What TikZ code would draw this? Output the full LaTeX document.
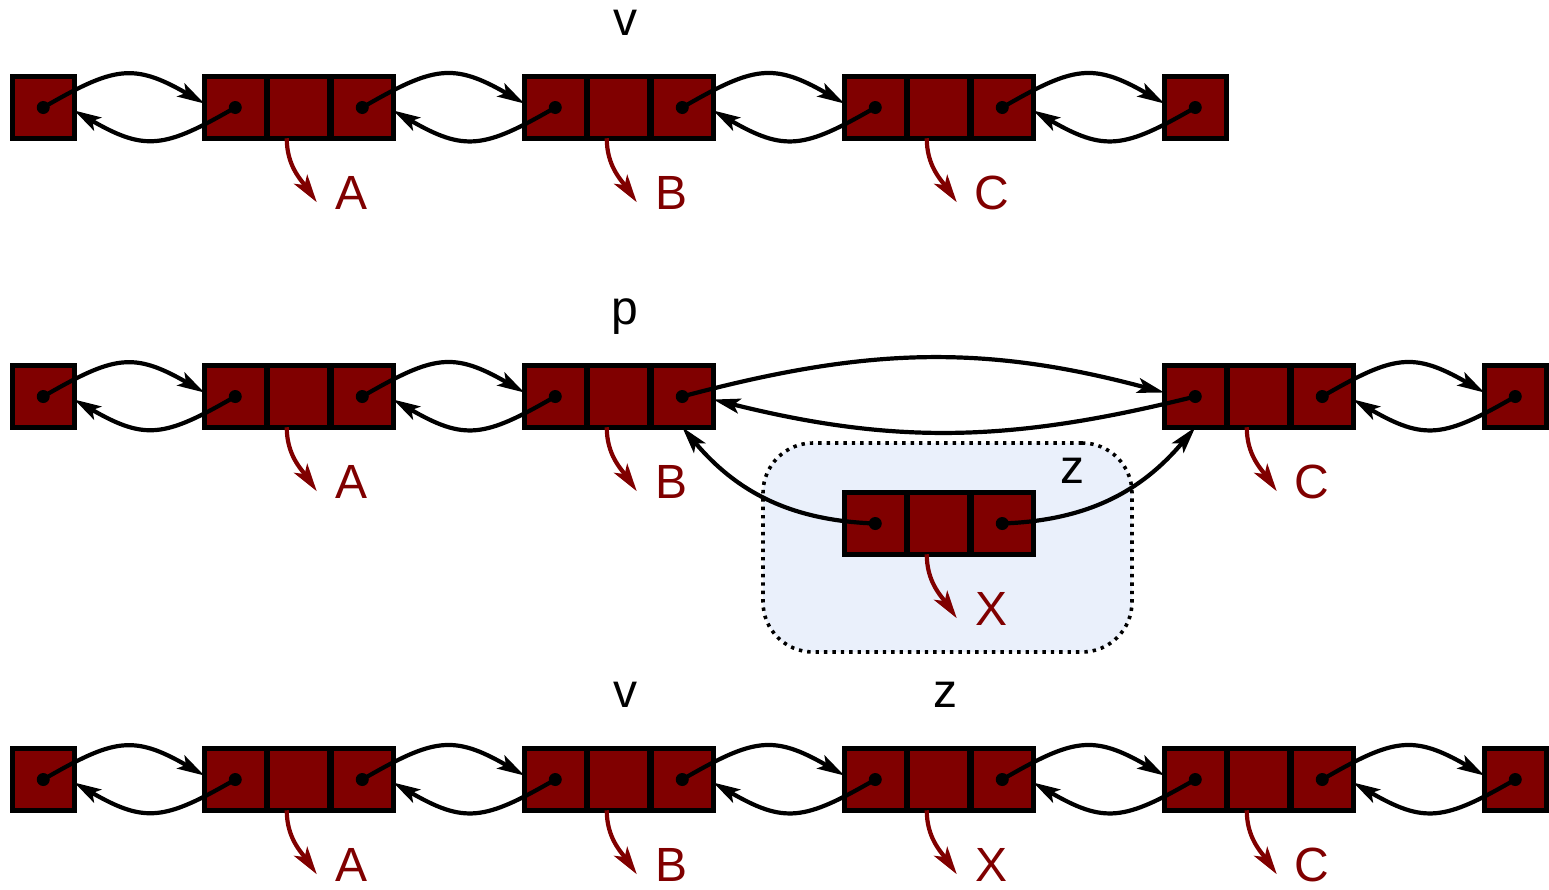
\documentclass[tikz,border=0pt]{standalone}
\usepackage{fontspec}
\setmainfont{Liberation Sans}
\usetikzlibrary{arrows.meta}
\definecolor{mar}{HTML}{800000}
\definecolor{zfill}{RGB}{234,240,251}
\newcommand\onebox[3]{\node[cell] (#1) at ({#2+33.25},#3) {};}
\newcommand\tribox[4]{%
  \node[cell] (#1a) at ({#2+33.25},#3) {};
  \node[cell] (#1b) at ({#2+96.75},#3) {};
  \node[cell] (#1c) at ({#2+160.25},#3) {};
  \coordinate (#1t) at ([shift={(18,64)}]#1b.south);
  \draw[refarr] ([xshift=-12pt]#1b.south) to[out=-90,in=125] (#1t);
  \node[rlbl] (#1l) at ([shift={(53,71.5)}]#1b.south) {#4};
}
\newcommand\dotat[1]{\fill (#1.center) circle[radius=6.5pt];}
\newcommand\fwd[2]{\draw[lnk] (#1.center) to[out=30,in=150,looseness=1.3] ([yshift=4pt]#2.west);}
\newcommand\bwd[2]{\draw[lnk] (#1.center) to[out=210,in=-30,looseness=1.3] ([yshift=-3pt]#2.east);}
\newcommand\pair[2]{\fwd{#1}{#2}\bwd{#2}{#1}}
\begin{document}
\begin{tikzpicture}[x=1pt,y=-1pt,
  cell/.style={draw=black,line width=5.2pt,fill=mar,minimum width=62pt,minimum height=61.5pt,inner sep=0pt,outer sep=0pt},
  lnk/.style={line width=4.2pt,-{Stealth[length=27pt,width=15pt,inset=6pt]}},
  refarr/.style={draw=mar,line width=4.2pt,-{Stealth[length=28pt,width=16pt,inset=7pt]}},
  rlbl/.style={text=mar,font=\fontsize{48}{48}\selectfont,anchor=base,inner sep=0pt},
  blbl/.style={text=black,font=\fontsize{48}{48}\selectfont,anchor=base,inner sep=0pt},
  zregion/.style={draw=black,line width=3.6pt,dash pattern=on 3.4pt off 5pt,fill=zfill,rounded corners=50pt,minimum width=369pt,minimum height=209pt,inner sep=0pt}
]
\useasboundingbox (0,0) rectangle (1549,889);
% background region
\node[zregion] (zreg) at (947.5,547.5) {};
% row 1
\onebox{ra}{10}{107.5}
\tribox{rab}{202}{107.5}{A}
\tribox{rac}{522}{107.5}{B}
\tribox{rad}{842}{107.5}{C}
\onebox{rae}{1162}{107.5}
\pair{ra}{raba}
\pair{rabc}{raca}
\pair{racc}{rada}
\pair{radc}{rae}
\foreach \n in {ra,raba,rabc,raca,racc,rada,radc,rae} {\dotat{\n}}
\node[blbl] (v1) at (625,35) {v};
% row 2
\onebox{rb}{10}{396.5}
\tribox{rbb}{202}{396.5}{A}
\tribox{rbc}{522}{396.5}{B}
\tribox{rbd}{1162}{396.5}{C}
\onebox{rbe}{1482}{396.5}
\tribox{zb}{842}{523.5}{X}
\pair{rb}{rbba}
\pair{rbbc}{rbca}
\draw[lnk] (rbcc.center) to[out=15,in=165] ([yshift=4pt]rbda.west);
\draw[lnk] (rbda.center) to[out=194,in=-14] ([yshift=-3pt]rbcc.east);
\pair{rbdc}{rbe}
\draw[lnk] (zba.center) to[out=178,in=-50] (rbcc.south);
\draw[lnk] (zbc.center) to[out=2,in=230] (rbda.south);
\foreach \n in {rb,rbba,rbbc,rbca,rbcc,rbda,rbdc,rbe,zba,zbc} {\dotat{\n}}
\node[blbl] (p2) at (625,324) {p};
\node[blbl] (z2) at (1072,483) {z};
% row 3
\onebox{rc}{10}{779.5}
\tribox{rcb}{202}{779.5}{A}
\tribox{rcc}{522}{779.5}{B}
\tribox{rcd}{842}{779.5}{X}
\tribox{rce}{1162}{779.5}{C}
\onebox{rcf}{1482}{779.5}
\pair{rc}{rcba}
\pair{rcbc}{rcca}
\pair{rccc}{rcda}
\pair{rcdc}{rcea}
\pair{rcec}{rcf}
\foreach \n in {rc,rcba,rcbc,rcca,rccc,rcda,rcdc,rcea,rcec,rcf} {\dotat{\n}}
\node[blbl] (v3) at (625,707) {v};
\node[blbl] (z3) at (945,707) {z};
\end{tikzpicture}
\end{document}
